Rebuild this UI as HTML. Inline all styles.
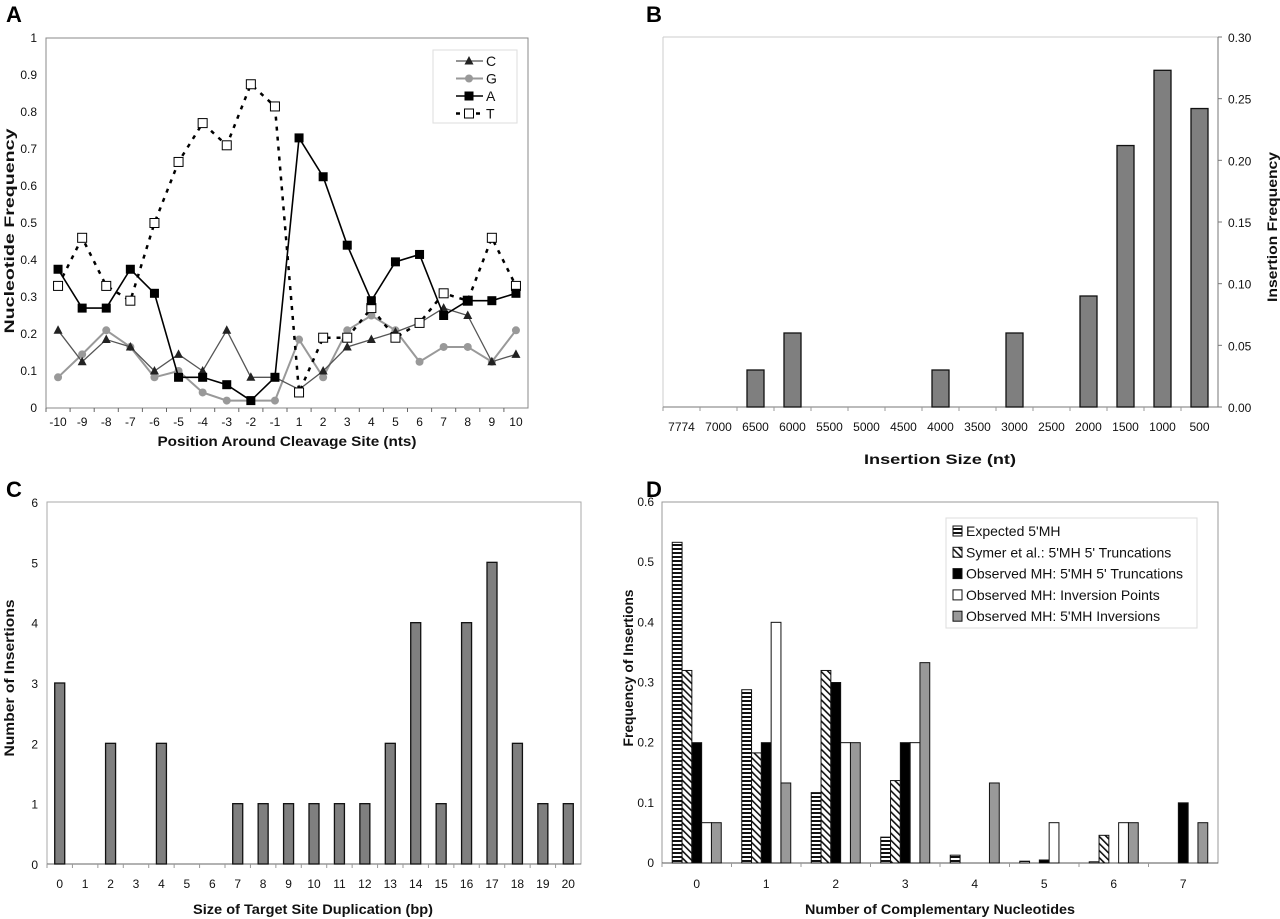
<!DOCTYPE html>
<html><head><meta charset="utf-8"><style>
html,body{margin:0;padding:0;background:#fff;}
svg{display:block;font-family:"Liberation Sans",Arial,sans-serif;}
.tick{font-size:12px;fill:#111;}
.ttl{font-size:14px;font-weight:bold;fill:#111;}
</style></head><body>
<svg id="fig" width="1280" height="919" viewBox="0 0 1280 919">
<defs>
<pattern id="hstripe" width="4" height="4" patternUnits="userSpaceOnUse"><rect width="4" height="4" fill="#fff"/><rect y="0" width="4" height="2" fill="#111"/></pattern>
<pattern id="dstripe" width="5" height="5" patternUnits="userSpaceOnUse" patternTransform="rotate(-45)"><rect width="5" height="5" fill="#fff"/><rect width="1.6" height="5" fill="#111"/></pattern>
</defs>
<text x="6" y="22" font-size="22" font-weight="bold">A</text>
<text x="646" y="22" font-size="22" font-weight="bold">B</text>
<text x="6" y="497" font-size="22" font-weight="bold">C</text>
<text x="646" y="497" font-size="22" font-weight="bold">D</text>
<g id="gA"></g><g id="gB"></g><g id="gC"></g><g id="gD"></g>
</svg>
<script>
// Panel A data
const aCats = ['-10','-9','-8','-7','-6','-5','-4','-3','-2','-1','1','2','3','4','5','6','7','8','9','10'];
const aC = [0.21,0.125,0.185,0.165,0.10,0.145,0.10,0.21,0.083,0.083,0.05,0.10,0.165,0.185,0.205,0.23,0.27,0.25,0.125,0.145];
const aG = [0.083,0.145,0.21,0.165,0.083,0.10,0.042,0.02,0.02,0.02,0.185,0.083,0.21,0.25,0.21,0.125,0.165,0.165,0.125,0.21];
const aA = [0.375,0.27,0.27,0.375,0.31,0.083,0.083,0.063,0.02,0.083,0.73,0.625,0.44,0.29,0.395,0.415,0.25,0.29,0.29,0.31];
const aT = [0.33,0.46,0.33,0.29,0.50,0.665,0.77,0.71,0.875,0.815,0.042,0.19,0.19,0.27,0.19,0.23,0.31,0.29,0.46,0.33];
const aTicks = ['0','0.1','0.2','0.3','0.4','0.5','0.6','0.7','0.8','0.9','1'];
// Panel B data
const bCats = ['7774','7000','6500','6000','5500','5000','4500','4000','3500','3000','2500','2000','1500','1000','500'];
const bVals = [0,0,0.03,0.06,0,0,0,0.03,0,0.06,0,0.09,0.212,0.273,0.242];
const bTicks = ['0.00','0.05','0.10','0.15','0.20','0.25','0.30'];
// Panel C data
const cCats = ['0','1','2','3','4','5','6','7','8','9','10','11','12','13','14','15','16','17','18','19','20'];
const cVals = [3,0,2,0,2,0,0,1,1,1,1,1,1,2,4,1,4,5,2,1,1];
const cTicks = ['0','1','2','3','4','5','6'];
// Panel D data
const dCats = ['0','1','2','3','4','5','6','7'];
const dExpected = [0.533,0.288,0.117,0.043,0.013,0.003,0.002,0];
const dSymer = [0.32,0.183,0.32,0.137,0,0,0.046,0];
const dObsTrunc = [0.2,0.2,0.3,0.2,0,0.005,0,0.1];
const dInvPoints = [0.067,0.4,0.2,0.2,0,0.067,0.067,0];
const dInversions = [0.067,0.133,0.2,0.333,0.133,0,0.067,0.067];
const dTicks = ['0','0.1','0.2','0.3','0.4','0.5','0.6'];
const dSeriesNames = ['Expected 5\'MH','Symer et al.: 5\'MH 5\' Truncations','Observed MH: 5\'MH 5\' Truncations','Observed MH: Inversion Points','Observed MH: 5\'MH Inversions'];

const NS='http://www.w3.org/2000/svg';
function mk(parent,tag,attrs,text){const e=document.createElementNS(NS,tag);for(const k in attrs)e.setAttribute(k,attrs[k]);if(text!==undefined)e.textContent=text;parent.appendChild(e);return e;}
function title(g,txt,x,y,rot,len,size){
 const a={x:0,y:0,transform:`translate(${x},${y})`+(rot?' rotate(-90)':''),'text-anchor':'middle',class:'ttl',textLength:len,lengthAdjust:'spacingAndGlyphs'};
 if(size)a['font-size']=size;
 return mk(g,'text',a,txt);
}

// ---- Panel A ----
(function(){
const g=document.getElementById('gA');
const L=46,R=528,T=38,B=408;
const sy=v=>B-(v/1)*(B-T);
const step=(R-L)/aCats.length;
const sx=i=>L+step*(i+0.5);
const fr=mk(g,'rect',{x:L,y:T,width:R-L,height:B-T,fill:'none',stroke:'#888','stroke-width':1});

aTicks.forEach((t,i)=>{const v=parseFloat(t);const e=mk(g,'text',{x:37,y:sy(v)+4,'text-anchor':'end',class:'tick'},t);
});
aCats.forEach((c,i)=>{mk(g,'line',{x1:L+step*i,x2:L+step*i,y1:B,y2:B+4,stroke:'#666'});
const e=mk(g,'text',{x:sx(i),y:426,'text-anchor':'middle',class:'tick'},c);
});
let e=title(g,'Position Around Cleavage Site (nts)',287,446,false,259,15);

e=title(g,'Nucleotide Frequency',14,231,true,205,15);

function series(vals,color,width,dash,marker,name){
 const pts=vals.map((v,i)=>sx(i)+','+sy(v)).join(' ');
 const pl=mk(g,'polyline',{points:pts,fill:'none',stroke:color,'stroke-width':width,'stroke-dasharray':dash||'none'});
 
 vals.forEach((v,i)=>{const m=drawMarker(g,marker,sx(i),sy(v),color);
 });
}
function drawMarker(p,type,x,y,color){
 if(type==='tri')return mk(p,'polygon',{points:`${x},${y-5} ${x-4.5},${y+3.5} ${x+4.5},${y+3.5}`,fill:'#222'});
 if(type==='circ')return mk(p,'circle',{cx:x,cy:y,r:4,fill:'#999'});
 if(type==='sq')return mk(p,'rect',{x:x-4.5,y:y-4.5,width:9,height:9,fill:'#000'});
 return mk(p,'rect',{x:x-4.5,y:y-4.5,width:9,height:9,fill:'#fff',stroke:'#000','stroke-width':1});
}
series(aG,'#999',2,null,'circ','g');
series(aC,'#555',1.3,null,'tri','c');
series(aT,'#000',2.5,'4,6','sqo','t');
series(aA,'#000',1.6,null,'sq','a');
const lg=mk(g,'g',{});
mk(lg,'rect',{x:433,y:50,width:84,height:73,fill:'#fff',stroke:'#ddd'});
const ent=[['C','#555',1.3,null,'tri'],['G','#999',2,null,'circ'],['A','#000',1.6,null,'sq'],['T','#000',2.5,'4,6','sqo']];
ent.forEach((en,k)=>{const y=61+k*17.5;
 const ge=mk(lg,'g',{});
 mk(ge,'line',{x1:456,x2:483,y1:y,y2:y,stroke:en[1],'stroke-width':en[2],'stroke-dasharray':en[3]||'none'});
 drawMarker(ge,en[4],469,y,en[1]);
 mk(ge,'text',{x:486,y:y+5,'font-size':14,fill:'#111'},en[0]);});
})();

// ---- Panel B ----
(function(){
const g=document.getElementById('gB');
const L=663,R=1218,T=37,B=407;
const sy=v=>B-(v/0.30)*(B-T);
const step=(R-L)/bCats.length;
const sx=i=>L+step*(i+0.5);
mk(g,'line',{x1:L,y1:T,x2:R,y2:T,stroke:'#ccc'});
mk(g,'line',{x1:L,y1:T,x2:L,y2:B,stroke:'#ccc'});
mk(g,'line',{x1:R,y1:T,x2:R,y2:B,stroke:'#777'});
mk(g,'line',{x1:L,y1:B,x2:R,y2:B,stroke:'#777'});
bTicks.forEach(t=>{const v=parseFloat(t);mk(g,'line',{x1:R,x2:R+4,y1:sy(v),y2:sy(v),stroke:'#777'});
const e=mk(g,'text',{x:1228,y:sy(v)+5,class:'tick','font-size':13},t);
});
bCats.forEach((c,i)=>{mk(g,'line',{x1:L+step*i,x2:L+step*i,y1:B,y2:B+4,stroke:'#999'});
const e=mk(g,'text',{x:sx(i),y:431,'text-anchor':'middle',class:'tick','font-size':13},c);

const v=bVals[i]; if(v>0){const r=mk(g,'rect',{x:sx(i)-8.5,y:sy(v),width:17,height:B-sy(v),fill:'#7f7f7f',stroke:'#111','stroke-width':1.3});
}});
let e=title(g,'Insertion Size (nt)',940,464,false,152,20);

e=title(g,'Insertion Frequency',1277,227,true,150,15);

})();

// ---- Panel C ----
(function(){
const g=document.getElementById('gC');
const L=47,R=581,T=502,B=864;
const sy=v=>B-(v/6)*(B-T);
const step=(R-L)/cCats.length;
const sx=i=>L+step*(i+0.5);
mk(g,'rect',{x:L,y:T,width:R-L,height:B-T,fill:'none',stroke:'#aaa'});
mk(g,'line',{x1:L,y1:B,x2:R,y2:B,stroke:'#666'});
cTicks.forEach(t=>{const v=parseFloat(t);
const e=mk(g,'text',{x:38,y:sy(v)+5,'text-anchor':'end',class:'tick','font-size':13},t);
});
cCats.forEach((c,i)=>{mk(g,'line',{x1:L+step*i,x2:L+step*i,y1:B,y2:B+4,stroke:'#999'});
const e=mk(g,'text',{x:sx(i),y:888,'text-anchor':'middle',class:'tick','font-size':13},c);

const v=cVals[i]; if(v>0){const r=mk(g,'rect',{x:sx(i)-5,y:sy(v),width:10,height:B-sy(v),fill:'#7f7f7f',stroke:'#111','stroke-width':1.3});
}});
let e=title(g,'Size of Target Site Duplication (bp)',313,914,false,240,14);

e=title(g,'Number of Insertions',14,678,true,157,15);

})();

// ---- Panel D ----
(function(){
const g=document.getElementById('gD');
const L=662,R=1218,T=502,B=863;
const sy=v=>B-(v/0.6)*(B-T);
const step=(R-L)/dCats.length;
const sx=i=>L+step*(i+0.5);
mk(g,'rect',{x:L,y:T,width:R-L,height:B-T,fill:'none',stroke:'#999'});
mk(g,'line',{x1:L,y1:B,x2:R,y2:B,stroke:'#555'});
dTicks.forEach(t=>{const v=parseFloat(t);
const e=mk(g,'text',{x:654,y:sy(v)+4,'text-anchor':'end',class:'tick','font-size':12},t);
});
const fills=['url(#hstripe)','url(#dstripe)','#000','#fff','#999'];
const series=[dExpected,dSymer,dObsTrunc,dInvPoints,dInversions];
const bw=9.8;
dCats.forEach((c,i)=>{mk(g,'line',{x1:L+step*i,x2:L+step*i,y1:B,y2:B+4,stroke:'#999'});
const e=mk(g,'text',{x:sx(i),y:888,'text-anchor':'middle',class:'tick','font-size':12},c);

series.forEach((s,k)=>{const v=s[i]; if(v>0){const x=sx(i)-24.5+k*bw;
const r=mk(g,'rect',{x:x,y:sy(v),width:bw,height:B-sy(v),fill:fills[k],stroke:'#111','stroke-width':1});
}});});
let e=title(g,'Number of Complementary Nucleotides',940,914,false,270,14);

e=title(g,'Frequency of Insertions',633,668,true,157,15);

const lg=mk(g,'g',{});
mk(lg,'rect',{x:946,y:518,width:251,height:110,fill:'#fff',stroke:'#ddd'});
dSeriesNames.forEach((n,k)=>{const y=531+k*21.3;
const ge=mk(lg,'g',{});
mk(ge,'rect',{x:953,y:y-5,width:9,height:10,fill:fills[k],stroke:'#111'});
mk(ge,'text',{x:966,y:y+5,'font-size':14,fill:'#111'},n);});
})();
</script>
</body></html>
